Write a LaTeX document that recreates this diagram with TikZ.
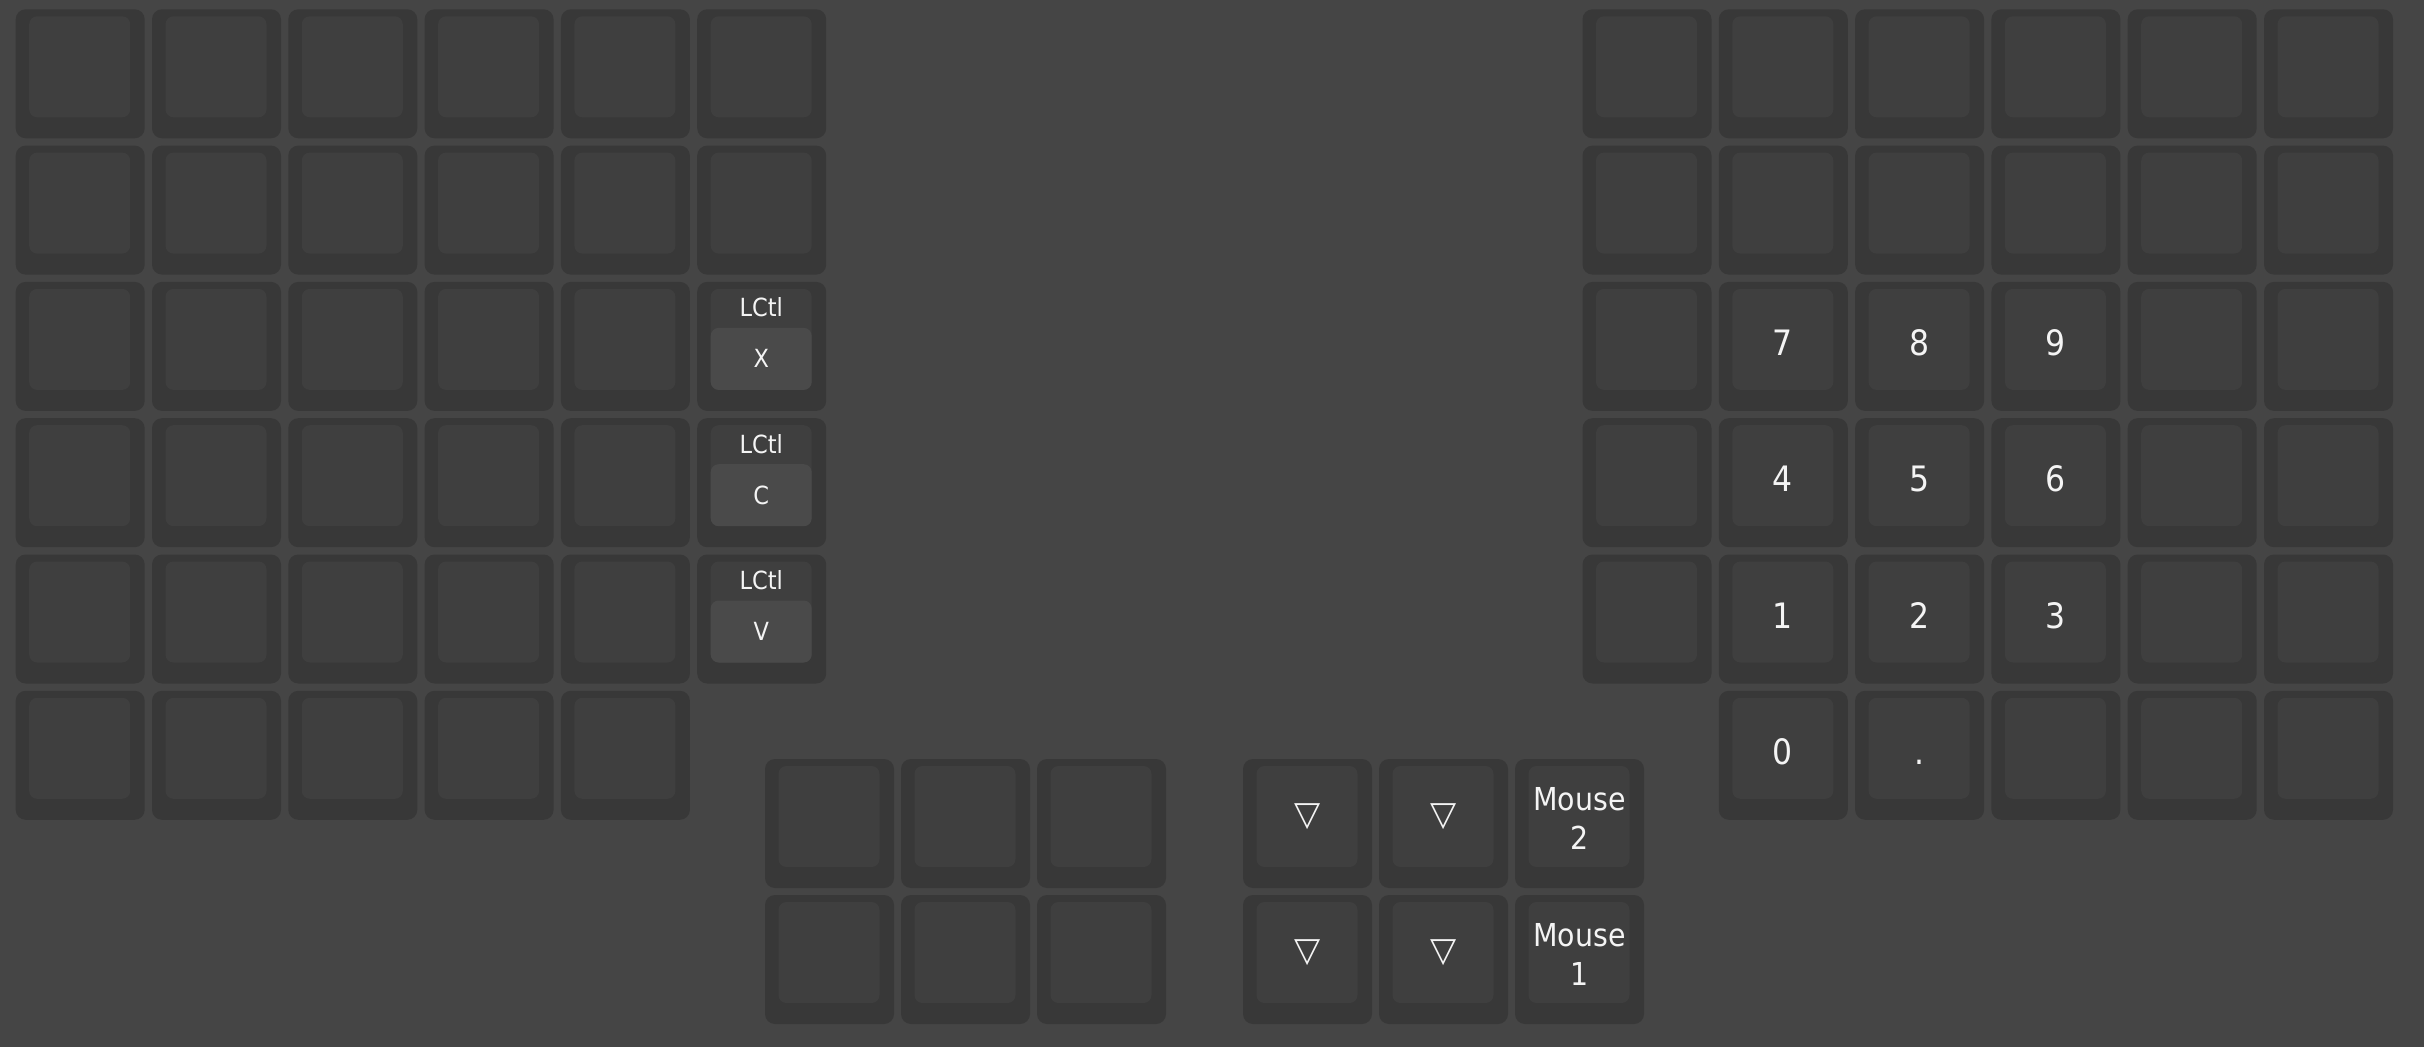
\documentclass[tikz,border=0pt]{standalone}
\usepackage{fontspec}
\setmainfont{DejaVu Sans Condensed}
\newfontfamily\symfont{DejaVu Sans}
\definecolor{bg}{HTML}{454545}
\definecolor{keyedge}{HTML}{383838}
\definecolor{keytop}{HTML}{3F3F3F}
\definecolor{keyhold}{HTML}{4A4A4A}
\definecolor{legendc}{HTML}{F4F4F4}
\newcommand\keycap[3]{%
  \node[keyout] (#1) at (#2+64.5,#3+64.5) {};
  \node[keyin] (#1-top) at (#2+64,#3+57.5) {};}
\begin{document}
\begin{tikzpicture}[x=0.5pt,y=-0.5pt,
  keyout/.style={fill=keyedge, rounded corners=5pt, minimum width=64.5pt, minimum height=64.5pt, inner sep=0pt, outer sep=0pt},
  keyin/.style={fill=keytop, rounded corners=4pt, minimum width=50.5pt, minimum height=50.5pt, inner sep=0pt, outer sep=0pt},
  holdpanel/.style={fill=keyhold, rounded corners=4pt, minimum width=50.5pt, minimum height=31pt, inner sep=0pt, outer sep=0pt},
  smalllbl/.style={text=legendc, font=\fontsize{12.5}{15}\selectfont, anchor=base, inner sep=0pt},
  digitlbl/.style={text=legendc, font=\fontsize{17.5}{21}\selectfont, anchor=base, inner sep=0pt},
  mouselbl/.style={text=legendc, font=\fontsize{15.8}{19}\selectfont, anchor=base, inner sep=0pt},
  trilbl/.style={text=legendc, font=\symfont\fontsize{17}{20}\selectfont, inner sep=0pt}]
\fill[bg] (0,0) rectangle (2424,1047);
\useasboundingbox (0,0) rectangle (2424,1047);
% left half
\foreach \r in {0,...,4} {\foreach \c in {0,...,5} {\keycap{L\r\c}{15.7+136.3*\c}{9.3+136.3*\r}}}
\foreach \c in {0,...,4} {\keycap{L5\c}{15.7+136.3*\c}{690.8}}
% right half
\foreach \r in {0,...,4} {\foreach \c in {0,...,5} {\keycap{R\r\c}{1582.5+136.3*\c}{9.3+136.3*\r}}}
\foreach \c in {1,...,5} {\keycap{R5\c}{1582.5+136.3*\c}{690.8}}
% thumb clusters
\foreach \x [count=\i] in {765,901,1037} {\keycap{TLa\i}{\x}{759}\keycap{TLb\i}{\x}{895}}
\foreach \x [count=\i] in {1243,1379,1515} {\keycap{TRa\i}{\x}{759}\keycap{TRb\i}{\x}{895}}
% hold-tap keys
\foreach \r/\k in {2/X,3/C,4/V} {
  \node[holdpanel] (H\r) at (761.2,9.3+136.3*\r+77) {};
  \node[smalllbl] (H\r-mod) at (761.2,9.3+136.3*\r+35) {LCtl};
  \node[smalllbl] (H\r-key) at (761.2,9.3+136.3*\r+86) {\k};
}
% numpad legends
\foreach \r/\c/\t in {2/1/7,2/2/8,2/3/9,3/1/4,3/2/5,3/3/6,4/1/1,4/2/2,4/3/3,5/1/0,5/2/.} {
  \node[digitlbl] (D\r\c) at (1582.5+136.3*\c+64,9.3+136.3*\r+73.5) {\t};
}
% thumb legends
\foreach \x [count=\i] in {1307.5,1443.5} {
  \node[trilbl] (Ta\i) at (\x,816.5) {▽};
  \node[trilbl] (Tb\i) at (\x,952.5) {▽};
}
\node[mouselbl] (M2a) at (1579.5,810) {Mouse};
\node[mouselbl] (M2b) at (1579.5,849) {2};
\node[mouselbl] (M1a) at (1579.5,946) {Mouse};
\node[mouselbl] (M1b) at (1579.5,985) {1};
\end{tikzpicture}
\end{document}
